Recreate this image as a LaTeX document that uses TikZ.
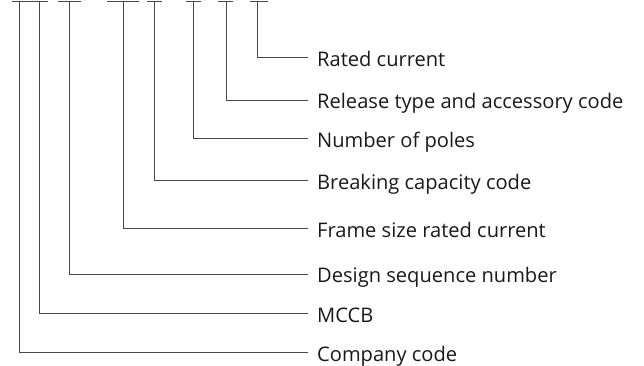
\documentclass[tikz,border=0pt]{standalone}
\usepackage{fontspec}
\setmainfont{Open Sans}
\begin{document}
\begin{tikzpicture}[x=1pt,y=1pt,
  ln/.style={draw=black!72,line width=0.9pt},
  lbl/.style={anchor=west,inner xsep=9pt,inner ysep=0pt,text height=17.6pt,text depth=0pt,
    font=\fontsize{20.1}{22}\selectfont,text=black!90}]
\useasboundingbox (0,0) rectangle (644,-365);
% top bars
\draw[ln] (12,-1) -- (48,-1);
\draw[ln] (58,-1) -- (81,-1);
\draw[ln] (107,-1) -- (139,-1);
\draw[ln] (147,-1) -- (162,-1);
\draw[ln] (186,-1) -- (201,-1);
\draw[ln] (218,-1) -- (233,-1);
\draw[ln] (250,-1) -- (268,-1);
% tops of connectors
\coordinate (t1) at (257.7,-1);
\coordinate (t2) at (226,-1);
\coordinate (t3) at (193.3,-1);
\coordinate (t4) at (154,-1);
\coordinate (t5) at (123.3,-1);
\coordinate (t6) at (69.7,-1);
\coordinate (t7) at (39.5,-1);
\coordinate (t8) at (19.5,-1);
% labels
\node[lbl] (l1) at (308,-57.3) {Rated current};
\node[lbl] (l2) at (308,-100) {Release type and accessory code};
\node[lbl] (l3) at (308,-138.3) {Number of poles};
\node[lbl] (l4) at (308,-180.3) {Breaking capacity code};
\node[lbl] (l5) at (308,-228.3) {Frame size rated current};
\node[lbl] (l6) at (308,-274) {Design sequence number};
\node[lbl] (l7) at (308,-313.3) {MCCB};
\node[lbl] (l8) at (308,-352.3) {Company code};
% connectors
\foreach \i in {1,...,8}{\draw[ln] (t\i) |- (l\i.west);}
\end{tikzpicture}
\end{document}
